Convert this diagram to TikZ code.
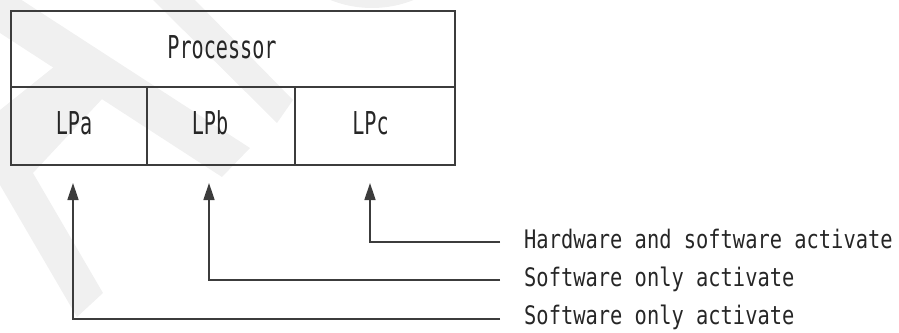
\documentclass[tikz,border=0pt]{standalone}
\usepackage{fontspec}
\usepackage{graphicx}
\usetikzlibrary{arrows.meta}
\newfontfamily\monof{DejaVu Sans Mono}
\definecolor{ln}{HTML}{3C3C3C}
\definecolor{wm}{HTML}{F0F0F0}
\definecolor{tx}{HTML}{262626}
\newcommand\boxlbl[1]{\scalebox{0.64}[1]{\fontsize{31.5}{33}\selectfont #1}}
\newcommand\sidelbl[1]{\scalebox{0.80}[1]{\fontsize{25.5}{27}\selectfont #1}}
\begin{document}
\begin{tikzpicture}[x=1pt,y=-1pt,
  cell/.style={draw=ln,line width=1.5pt,inner sep=0pt,outer sep=0pt},
  boxtext/.style={anchor=base,inner sep=0pt,text=tx,font=\monof},
  labtext/.style={anchor=base west,inner sep=0pt,text=tx,font=\monof},
  conn/.style={draw=ln,line width=1.5pt,-{Triangle[width=11pt,length=17pt]}}]
\useasboundingbox (0,0) rectangle (899,332);
% watermark
\begin{scope}
\clip (0,0) rectangle (899,332);
\fill[wm] (0,-14) -- (250,148) -- (222,177) -- (0,33) -- cycle;
\fill[wm] (0,110) -- (60,62) -- (103,98) -- (33,173) -- (103,293) -- (77,317) -- (0,185) -- cycle;
\fill[wm] (153,0) -- (195,0) -- (293,100) -- (277,123) -- cycle;
\fill[wm] (372,-104) circle[radius=112];
\end{scope}
% cells
\node[cell,minimum width=444pt,minimum height=76pt] (proc) at (233,49) {};
\node[cell,minimum width=136pt,minimum height=78pt] (lpa) at (79,126) {};
\node[cell,minimum width=148pt,minimum height=78pt] (lpb) at (221,126) {};
\node[cell,minimum width=160pt,minimum height=78pt] (lpc) at (375,126) {};
% texts
\node[boxtext] (tproc) at (222,58.5) {\boxlbl{Processor}};
\node[boxtext] (tlpa) at (74,134.5) {\boxlbl{LPa}};
\node[boxtext] (tlpb) at (210,134.5) {\boxlbl{LPb}};
\node[boxtext] (tlpc) at (370.5,134.5) {\boxlbl{LPc}};
\node[labtext] (lc) at (524,248.5) {\sidelbl{Hardware and software activate}};
\node[labtext] (lb) at (524,286.5) {\sidelbl{Software only activate}};
\node[labtext] (la) at (524,324.5) {\sidelbl{Software only activate}};
% connector ends
\coordinate (sc) at (500,242);
\coordinate (sb) at (500,280);
\coordinate (sa) at (500,319);
\coordinate (ac) at (370,183);
\coordinate (ab) at (209,183);
\coordinate (aa) at (73,183);
\draw[conn] (sc) -| (ac);
\draw[conn] (sb) -| (ab);
\draw[conn] (sa) -| (aa);
\end{tikzpicture}
\end{document}
